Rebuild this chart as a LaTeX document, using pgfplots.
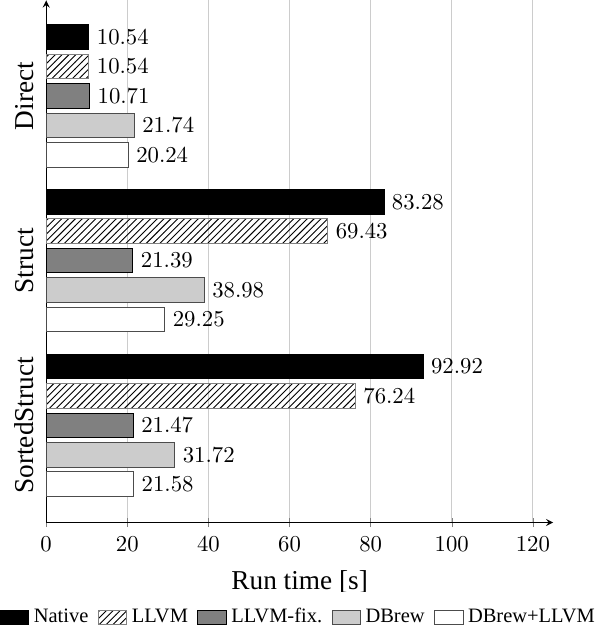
\documentclass[border=0pt]{standalone}
\usepackage{fontspec}
\setmainfont{Liberation Serif}
\usepackage{pgfplots}
\pgfplotsset{compat=1.18}
\usetikzlibrary{patterns}
\begin{document}
\begin{tikzpicture}
\begin{axis}[
  scale only axis,
  width=223pt, height=229.6pt,
  xbar, bar width=10.8pt,
  axis lines*=left,
  axis line style={-stealth},
  xmin=0, xmax=125,
  ymin=-0.59, ymax=2.58,
  ytick={0,1,2},
  yticklabels={SortedStruct,Struct,Direct},
  yticklabel style={rotate=90, anchor=south, font=\large},
  ytick style={draw=none},
  xtick={0,20,40,60,80,100,120},
  xtick style={gray},
  tick align=center, major tick length=4pt,
  xticklabel style={yshift=-1pt},
  xmajorgrids, grid style={black!20},
  xlabel={Run time [s]},
  xlabel style={font=\large, yshift=-1.5pt},
  nodes near coords,
  nodes near coords style={black, /pgf/number format/fixed, /pgf/number format/precision=2, /pgf/number format/fixed zerofill},
  legend style={at={(0.5,-0.133)}, anchor=north, legend columns=-1, draw=none, font=\small, inner xsep=0pt, inner ysep=5pt,
    /tikz/every even column/.append style={column sep=2.2pt}},
  legend image code/.code={\draw[#1] (0pt,-3pt) rectangle (12.5pt,3pt);},
]
\addplot[fill=black, draw=black, bar shift=25.9pt] coordinates {(92.92,0) (83.28,1) (10.54,2)};
\addplot[pattern=north east lines, draw=gray, bar shift=12.95pt] coordinates {(76.24,0) (69.43,1) (10.54,2)};
\addplot[fill=gray, draw=black, bar shift=0pt] coordinates {(21.47,0) (21.39,1) (10.71,2)};
\addplot[fill=black!20, draw=black!70, bar shift=-12.95pt] coordinates {(31.72,0) (38.98,1) (21.74,2)};
\addplot[fill=white, draw=black!70, bar shift=-25.9pt] coordinates {(21.58,0) (29.25,1) (20.24,2)};
\legend{Native, LLVM, LLVM-fix., DBrew, DBrew+LLVM}
\end{axis}
\end{tikzpicture}
\end{document}
